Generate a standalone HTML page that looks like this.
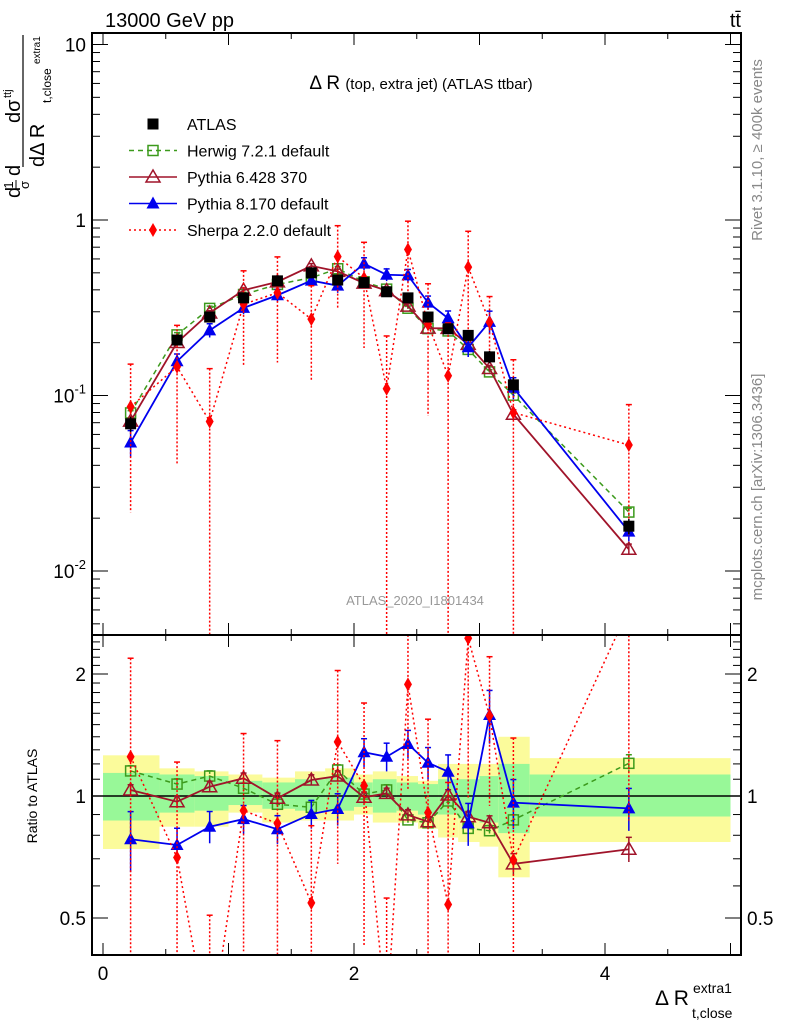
<!DOCTYPE html>
<html><head><meta charset="utf-8"><style>
html,body{margin:0;padding:0;background:#fff;overflow:hidden;width:786px;height:1024px;}
svg{display:block;font-family:"Liberation Sans",sans-serif;}
</style></head><body>
<svg id="chart" width="786" height="1024" viewBox="0 0 786 1024" xmlns="http://www.w3.org/2000/svg">
<defs>
<clipPath id="cm"><rect x="92" y="33" width="649" height="602"/></clipPath>
<clipPath id="cr"><rect x="92" y="635" width="649" height="320"/></clipPath>
</defs>
<g id="bands" clip-path="url(#cr)"></g>
<g id="marksR" clip-path="url(#cr)"></g>
<g id="marksM" clip-path="url(#cm)"></g>
<g id="axes"></g>
<text x="105" y="27" font-size="20">13000 GeV pp</text>
<text x="741" y="27" font-size="20" text-anchor="end">tt̄</text>
<text x="421" y="89" font-size="19" text-anchor="middle">Δ R <tspan font-size="15">(top, extra jet) (ATLAS ttbar)</tspan></text>
<text x="415" y="605" font-size="13" fill="#999" text-anchor="middle">ATLAS_2020_I1801434</text>
<text transform="translate(762,150) rotate(-90)" font-size="15" fill="#888" text-anchor="middle">Rivet 3.1.10, ≥ 400k events</text>
<text transform="translate(762,487) rotate(-90)" font-size="15" fill="#888" text-anchor="middle">mcplots.cern.ch [arXiv:1306.3436]</text>
<g>
<text transform="translate(20,198) rotate(-90)" font-size="20">d</text>
<text transform="translate(13,185) rotate(-90)" font-size="13" text-anchor="middle">1</text>
<line x1="16" y1="180" x2="16" y2="189" stroke="#000" stroke-width="1"/>
<text transform="translate(29,185) rotate(-90)" font-size="13" text-anchor="middle">σ</text>
<text transform="translate(20,176) rotate(-90)" font-size="20">d</text>
<line x1="23" y1="35" x2="23" y2="167" stroke="#000" stroke-width="1.2"/>
<text transform="translate(20,123) rotate(-90)" font-size="20">dσ</text>
<text transform="translate(11,98) rotate(-90)" font-size="11">ttj</text>
<text transform="translate(44,167) rotate(-90)" font-size="20">dΔ R</text>
<text transform="translate(51,103) rotate(-90)" font-size="12">t,close</text>
<text transform="translate(40,64) rotate(-90)" font-size="10">extra1</text>
</g>
<text transform="translate(37,796) rotate(-90)" font-size="14" text-anchor="middle">Ratio to ATLAS</text>
<g>
<text x="655" y="1005" font-size="21">Δ R</text>
<text x="693" y="993" font-size="14">extra1</text>
<text x="692" y="1018" font-size="14">t,close</text>
</g>
<g id="legend"></g>
</svg>
<script>
const edges=[0,0.45,0.73,1.0,1.27,1.53,1.77,2.0,2.15,2.34,2.51,2.67,2.83,3.0,3.15,3.4,5.0];
const xs=[0.22,0.59,0.85,1.12,1.39,1.66,1.87,2.08,2.26,2.43,2.59,2.75,2.91,3.08,3.27,4.19];
const atlas=[0.069,0.207,0.28,0.36,0.45,0.50,0.455,0.44,0.39,0.36,0.28,0.24,0.22,0.166,0.115,0.018];
const atlasErr=[0.1,0.06,0.05,0.05,0.05,0.05,0.05,0.05,0.06,0.06,0.07,0.07,0.07,0.08,0.1,0.1];
const herwigR=[1.153,1.07,1.12,1.045,0.954,0.938,1.159,1.011,1.035,0.873,0.859,0.972,0.832,0.821,0.873,1.204];
const herwigErr=[0.03,0.03,0.03,0.03,0.03,0.03,0.03,0.03,0.03,0.03,0.03,0.03,0.03,0.03,0.03,0.05];
const py6R=[1.035,0.968,1.054,1.106,0.987,1.095,1.12,0.993,1.015,0.898,0.864,1.006,0.889,0.859,0.68,0.739];
const py6Err=[0.03,0.03,0.03,0.03,0.03,0.03,0.03,0.03,0.03,0.03,0.03,0.03,0.03,0.04,0.06,0.07];
const py8R=[0.782,0.757,0.84,0.877,0.828,0.903,0.929,1.282,1.25,1.344,1.208,1.148,0.856,1.584,0.963,0.932];
const py8Err=[0.17,0.1,0.09,0.08,0.08,0.08,0.09,0.08,0.08,0.08,0.09,0.1,0.12,0.15,0.14,0.12];
const sherpaR=[1.25,0.705,0.254,0.92,0.856,0.545,1.36,1.06,0.28,1.886,0.91,0.54,2.45,1.576,0.695,2.9];
const sherpaErr=[0.75,0.72,1.0,0.55,0.6,0.55,0.5,0.6,1.0,0.45,0.7,1.0,0.6,0.4,1.0,0.7];
const totUp=[1.26,1.17,1.15,1.13,1.11,1.15,1.17,1.13,1.15,1.12,1.09,1.2,1.2,1.2,1.4,1.24];
const totDn=[0.74,0.84,0.84,0.91,0.86,0.87,0.87,0.9,0.86,0.86,0.83,0.79,0.77,0.75,0.63,0.77];
const statUp=[1.14,1.13,1.12,1.09,1.08,1.1,1.11,1.08,1.1,1.08,1.07,1.1,1.1,1.12,1.2,1.13];
const statDn=[0.87,0.91,0.92,0.95,0.93,0.92,0.92,0.94,0.91,0.92,0.9,0.9,0.88,0.86,0.81,0.89];
const mainTicks=["10","1","10^-1","10^-2"];
const ratioTicks=["2","1","0.5"];
const xTicks=["0","2","4"];

const NS="http://www.w3.org/2000/svg";
const X=v=>103+v*125.5;
const YM=v=>220-175.5*Math.log10(v);
const YR=v=>796-405.3*Math.log10(v);
function mk(p,tag,at){const e=document.createElementNS(NS,tag);for(const k in at)e.setAttribute(k,at[k]);p.appendChild(e);return e;}
const gB=document.getElementById('bands'),gR=document.getElementById('marksR'),gM=document.getElementById('marksM'),gA=document.getElementById('axes'),gL=document.getElementById('legend');

for(let i=0;i<xs.length;i++){
  const x0=X(edges[i]),x1=X(edges[i+1]);
  let r=mk(gB,'rect',{x:x0,y:YR(totUp[i]),width:x1-x0,height:YR(totDn[i])-YR(totUp[i]),fill:'#fbfb9b'});
  
  
  r=mk(gB,'rect',{x:x0,y:YR(statUp[i]),width:x1-x0,height:YR(statDn[i])-YR(statUp[i]),fill:'#98f898'});
  
  
}
let ref=mk(gB,'line',{x1:92,x2:741,y1:YR(1),y2:YR(1),stroke:'#000','stroke-width':1.5});



function marker(g,type,x,y,col){
  let e;
  if(type==='sq') e=mk(g,'rect',{x:x-5.5,y:y-5.5,width:11,height:11,fill:'#000'});
  else if(type==='osq') e=mk(g,'rect',{x:x-5,y:y-5,width:10,height:10,fill:'none',stroke:col,'stroke-width':1.5});
  else if(type==='otri') e=mk(g,'polygon',{points:`${x},${y-7} ${x-7},${y+5} ${x+7},${y+5}`,fill:'none',stroke:col,'stroke-width':1.5});
  else if(type==='tri') e=mk(g,'polygon',{points:`${x},${y-7} ${x-6.5},${y+5} ${x+6.5},${y+5}`,fill:col});
  else e=mk(g,'polygon',{points:`${x},${y-7} ${x-4},${y} ${x},${y+7} ${x+4},${y}`,fill:col});
  return e;
}
const series=[
 {name:'herwig',r:herwigR,err:herwigErr,col:'#3c9a1c',dash:'5,4',m:'osq',w:1.5},
 {name:'pythia6',r:py6R,err:py6Err,col:'#a0142a',dash:'',m:'otri',w:1.8},
 {name:'pythia8',r:py8R,err:py8Err,col:'#0000ee',dash:'',m:'tri',w:1.8},
 {name:'sherpa',r:sherpaR,err:sherpaErr,col:'#ff0000',dash:'2,3',m:'dia',w:1.5}
];
function drawSeries(g,Y,vals,s,tag,bottom){
  const pts=xs.map((x,i)=>X(x)+','+Y(vals[i])).join(' ');
  const pl=mk(g,'polyline',{points:pts,fill:'none',stroke:s.col,'stroke-width':s.w,'stroke-dasharray':s.dash});
  
  
  xs.forEach((x,i)=>{
    const v=vals[i],lo=v*(1-s.err[i]),hi=v*(1+s.err[i]);
    const ylo=lo>0?Math.min(Y(lo),bottom):bottom;
    mk(g,'line',{x1:X(x),x2:X(x),y1:Y(hi),y2:ylo,stroke:s.col,'stroke-width':1.5,'stroke-dasharray':s.name==='sherpa'?'2,2':(s.name==='herwig'?'3,2':'')});
    mk(g,'line',{x1:X(x)-3,x2:X(x)+3,y1:Y(hi),y2:Y(hi),stroke:s.col,'stroke-width':1.5});
    const m=marker(g,s.m,X(x),Y(v),s.col);
    
    
  });
}
series.forEach(s=>{
  drawSeries(gR,YR,s.r,s,'ratio',955);
  drawSeries(gM,YM,s.r.map((r,i)=>r*atlas[i]),s,'main',635);
});
xs.forEach((x,i)=>{
  const v=atlas[i];
  mk(gM,'line',{x1:X(x),x2:X(x),y1:YM(v*(1+atlasErr[i])),y2:YM(v*(1-atlasErr[i])),stroke:'#000','stroke-width':1.5});
  const m=marker(gM,'sq',X(x),YM(v),'#000');
  
  
});

let f=mk(gA,'rect',{x:92,y:33,width:649,height:602,fill:'none',stroke:'#000','stroke-width':2});


f=mk(gA,'rect',{x:92,y:635,width:649,height:320,fill:'none',stroke:'#000','stroke-width':2});


for(let v=0;v<=5.001;v+=0.5){
  const x=X(v),L=(Math.abs(v%1)<0.01)?12:6;
  [33,635].forEach(y=>mk(gA,'line',{x1:x,x2:x,y1:y,y2:y+L,stroke:'#000','stroke-width':1}));
  [635,955].forEach(y=>mk(gA,'line',{x1:x,x2:x,y1:y,y2:y-L,stroke:'#000','stroke-width':1}));
}
xTicks.forEach(t=>{
  const e=mk(gA,'text',{x:X(+t),y:980,'font-size':19,'text-anchor':'middle'});e.textContent=t;
  
  
});
for(let d=-3;d<=1;d++){for(let k=1;k<10;k++){const v=k*Math.pow(10,d);const y=YM(v);if(y<33||y>635)continue;const L=k===1?16:8;
  mk(gA,'line',{x1:92,x2:92+L,y1:y,y2:y,stroke:'#000'});mk(gA,'line',{x1:741,x2:741-L,y1:y,y2:y,stroke:'#000'});}}
mainTicks.forEach((t,i)=>{
  const y=YM(Math.pow(10,1-i));
  const e=mk(gA,'text',{x:86,y:y+7,'font-size':19,'text-anchor':'end'});
  if(t.includes('^')){const p=t.split('^');e.textContent=p[0];const s=mk(e,'tspan',{dy:-9,'font-size':13});s.textContent=p[1];}else e.textContent=t;
  
  
});
for(let v=0.4;v<=2.5;v+=0.1){const y=YR(v);if(y<635||y>955)continue;const maj=Math.abs(v-0.5)<0.01||Math.abs(v-1)<0.01||Math.abs(v-2)<0.01;const L=maj?16:8;
  mk(gA,'line',{x1:92,x2:92+L,y1:y,y2:y,stroke:'#000'});mk(gA,'line',{x1:741,x2:741-L,y1:y,y2:y,stroke:'#000'});}
ratioTicks.forEach(t=>{
  const y=YR(+t)+7;
  let e=mk(gA,'text',{x:86,y:y,'font-size':19,'text-anchor':'end'});e.textContent=t;
  
  
  e=mk(gA,'text',{x:747,y:y,'font-size':19});e.textContent=t;
  
  
});
const leg=[['ATLAS','sq','#000',''],['Herwig 7.2.1 default','osq','#3c9a1c','5,4'],['Pythia 6.428 370','otri','#a0142a',''],['Pythia 8.170 default','tri','#0000ee',''],['Sherpa 2.2.0 default','dia','#ff0000','2,3']];
leg.forEach((l,i)=>{
  const y=124+i*26.5;
  const g=mk(gL,'g',{});
  
  
  if(i>0)mk(g,'line',{x1:129,x2:177,y1:y,y2:y,stroke:l[2],'stroke-width':1.5,'stroke-dasharray':l[3]});
  marker(g,l[1],153,y,l[2]);
  const t=mk(g,'text',{x:187,y:y+6,'font-size':16});t.textContent=l[0];
});
</script>
</body></html>
